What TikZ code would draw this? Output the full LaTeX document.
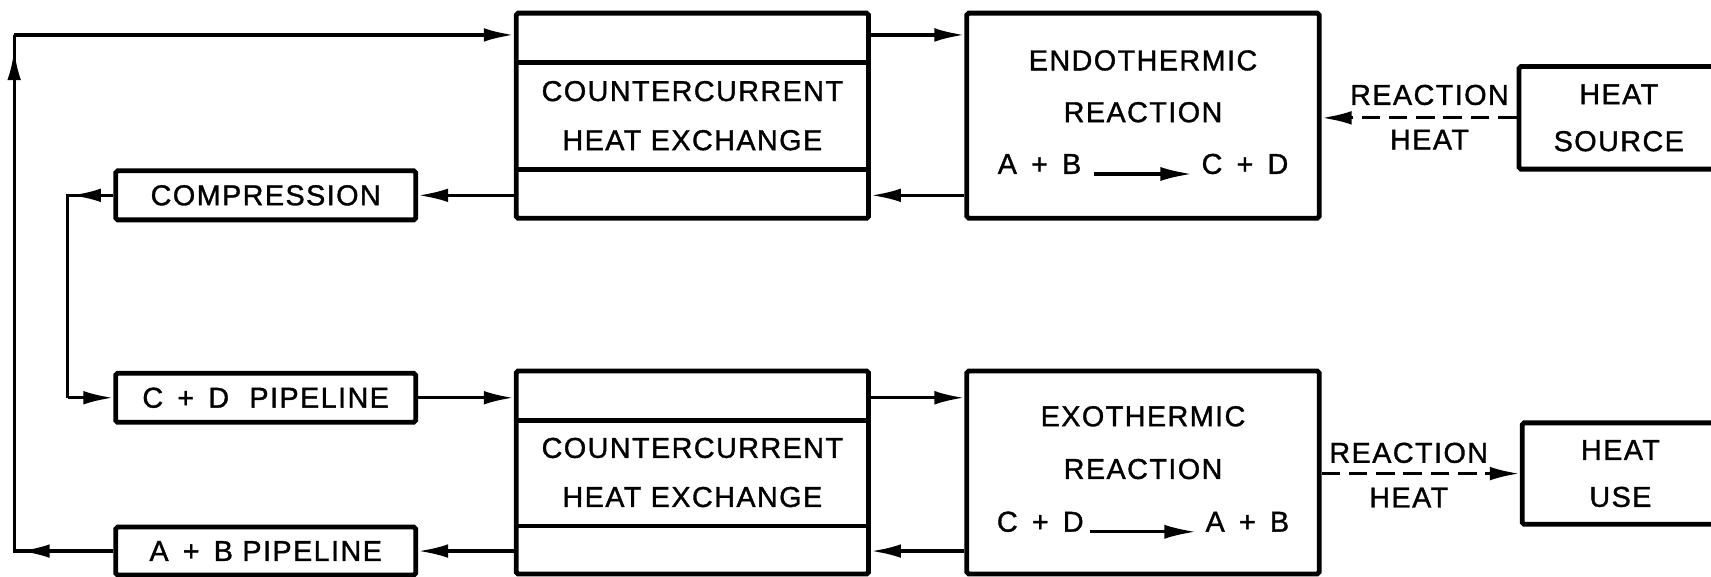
\documentclass[tikz,border=0pt]{standalone}
\usepackage{fontspec}
\setmainfont{Liberation Sans}[LetterSpace=5,FakeBold=1.2]
\usetikzlibrary{arrows.meta}
\newcommand\pl{\hspace{0.26cm}+\hspace{0.26cm}}
\newcommand\rxarrow[1]{\tikz[x=1cm,y=1cm,baseline={(0,-0.12)}]\draw[line width=1.6pt,-{Latex[length=0.58cm,width=0.26cm]}] (0,0) -- (#1,0);}
\begin{document}
\begin{tikzpicture}[x=0.02cm,y=-0.02cm,
  box/.style={draw, line width=2.5pt, rounded corners=1pt, inner sep=0pt, align=center, font=\fontsize{15}{25.6}\selectfont},
  lbl/.style={inner sep=0pt, font=\fontsize{15}{25.6}\selectfont},
  conn/.style={line width=1.7pt},
  flow/.style={conn, -{Latex[length=0.55cm,width=0.25cm]}},
  dflow/.style={flow, dash pattern=on 0.34cm off 0.16cm},
  divl/.style={line width=2.5pt}]
\clip (0,0) rectangle (1568,528);
% boxes
\node[box, minimum width=6.46cm, minimum height=3.76cm] (hx1) at (634.5,106) {COUNTERCURRENT\\HEAT EXCHANGE};
\node[box, minimum width=6.46cm, minimum height=3.76cm, font=\fontsize{15}{27}\selectfont] (endo) at (1047.5,106) {ENDOTHERMIC\\REACTION\\A\pl B\hspace{0.2cm}\rxarrow{1.8}\hspace{0.15cm}C\pl D};
\node[box, minimum width=5.5cm, minimum height=0.9cm] (comp) at (243.5,179) {COMPRESSION};
\node[box, minimum width=5.5cm, minimum height=0.9cm] (cdp) at (243.5,364.5) {C\pl D\hspace{0.2cm} PIPELINE};
\node[box, minimum width=6.46cm, minimum height=3.72cm] (hx2) at (634.5,433) {COUNTERCURRENT\\HEAT EXCHANGE};
\node[box, minimum width=6.46cm, minimum height=3.72cm, font=\fontsize{15}{27.5}\selectfont] (exo) at (1047.5,433) {EXOTHERMIC\\REACTION\\C\pl D\hspace{0.08cm}\rxarrow{1.95}\hspace{0.15cm}A\pl B};
\node[box, minimum width=5.5cm, minimum height=0.88cm] (abp) at (243.5,505) {A\pl B PIPELINE};
\node[box, minimum width=3.66cm, minimum height=1.88cm, font=\fontsize{15}{24.5}\selectfont] (hs) at (1483.5,108) {HEAT\\SOURCE};
\node[box, minimum width=3.6cm, minimum height=1.86cm, font=\fontsize{15}{24.5}\selectfont] (hu) at (1485,434) {HEAT\\USE};
% dividers
\coordinate (d1) at (0,57);
\coordinate (d2) at (0,155);
\coordinate (d3) at (0,385);
\coordinate (d4) at (0,482);
\draw[divl] (hx1.west |- d1) -- (hx1.east |- d1);
\draw[divl] (hx1.west |- d2) -- (hx1.east |- d2);
\draw[divl] (hx2.west |- d3) -- (hx2.east |- d3);
\draw[divl] (hx2.west |- d4) -- (hx2.east |- d4);
% loop coordinates
\coordinate (bl) at (13,505);
\coordinate (tl) at (13,32);
\coordinate (upm) at (13,46);
\coordinate (cl) at (62,179);
% outer loop
\draw[conn] (abp.west) -- (bl) -- (tl);
\draw[flow] (abp.west) -- ([xshift=0.1cm]bl);
\draw[flow] (bl) -- (upm);
\draw[flow] (tl) -- (hx1.west |- tl);
% upper flows
\draw[flow] (hx1.east |- tl) -- (endo.west |- tl);
\draw[flow] (endo.west |- comp.east) -- (hx1.east |- comp.east);
\draw[flow] (hx1.west |- comp.east) -- (comp.east);
% compression to C+D pipeline
\draw[conn] (comp.west) -- (cl) -- (cl |- cdp.west);
\draw[flow] (comp.west) -- ([xshift=0.06cm]cl);
\draw[flow] (cl |- cdp.west) -- (cdp.west);
% lower flows
\draw[flow] (cdp.east) -- (hx2.west |- cdp.east);
\draw[flow] (hx2.east |- cdp.east) -- (exo.west |- cdp.east);
\draw[flow] (exo.west |- abp.east) -- (hx2.east |- abp.east);
\draw[flow] (hx2.west |- abp.east) -- (abp.east);
% reaction heat
\draw[dflow] (hs.west) -- (endo.east |- hs.west);
\draw[dflow] (exo.east |- hu.west) -- (hu.west);
\node[lbl] (rh1) at (1310,87) {REACTION};
\node[lbl] (hh1) at (1310,128) {HEAT};
\node[lbl] (rh2) at (1291,415) {REACTION};
\node[lbl] (hh2) at (1291,456) {HEAT};
\end{tikzpicture}
\end{document}
